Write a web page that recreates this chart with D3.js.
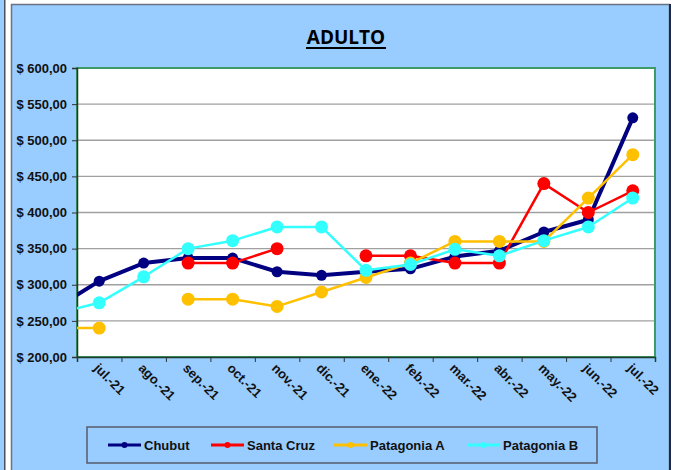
<!DOCTYPE html>
<html>
<head>
<meta charset="utf-8">
<script src="https://cdn.jsdelivr.net/npm/d3@7"></script>
<style>
  body { margin: 0; background: #fff; }
  svg { display: block; font-family: "Liberation Sans", Arial, sans-serif; }
</style>
</head>
<body>
<script>
// canvas size
var w = 676;
var h = 470;

// months shown on the axis (the first value of each series is jun.-21, just off the left edge)
var months = ["jul.-21", "ago.-21", "sep.-21", "oct.-21", "nov.-21", "dic.-21", "ene.-22",
              "feb.-22", "mar.-22", "abr.-22", "may.-22", "jun.-22", "jul.-22"];

// series values, jun.-21 .. jul.-22 (null = no data)
var chubut     = [267, 305, 330, 337, 337, 318, 313, 318, 322, 339, 347, 373, 390, 531];
var santaCruz  = [null, null, null, 330, 330, 350, null, 340, 340, 330, 330, 440, 400, 430];
var patagoniaA = [240, 240, null, 280, 280, 270, 290, 310, 330, 360, 360, 360, 420, 480];
var patagoniaB = [260, 275, 311, 350, 361, 380, 380, 320, 328, 349, 340, 361, 380, 420];

var yTicks = [200, 250, 300, 350, 400, 450, 500, 550, 600];

var series = [
  {name: "Chubut", values: chubut, color: "#000080", width: 4, r: 5.5},
  {name: "Santa Cruz", values: santaCruz, color: "#ff0000", width: 2.5, r: 6.5},
  {name: "Patagonia A", values: patagoniaA, color: "#ffc000", width: 2.5, r: 6.5},
  {name: "Patagonia B", values: patagoniaB, color: "#33ffff", width: 2.5, r: 6.5}
];

var plot = {left: 77, right: 655, top: 68, bottom: 357};

var svg = d3.select("body").append("svg")
    .attr("width", w)
    .attr("height", h);

// neighbouring chart strip and the frame
svg.append("rect").attr("x", 0).attr("y", 0).attr("width", 5).attr("height", h).attr("fill", "#99ccff");
svg.append("rect").attr("x", 4).attr("y", 0).attr("width", 1.5).attr("height", h).attr("fill", "#4a5060");
svg.append("rect").attr("x", 11.5).attr("y", 4.5).attr("width", 658).attr("height", h)
    .attr("fill", "#99ccff").attr("stroke", "#6b7283").attr("stroke-width", 1.5);
svg.append("rect").attr("x", 669).attr("y", 4).attr("width", 2).attr("height", h).attr("fill", "#1e2a44");

// title
svg.append("text")
    .attr("x", 346).attr("y", 44)
    .attr("text-anchor", "middle")
    .attr("font-family", "'Open Sans', 'Liberation Sans', sans-serif")
    .attr("font-size", 19).attr("font-weight", "bold")
    .attr("fill", "#000")
    .text("ADULTO");
svg.append("line")
    .attr("x1", 306).attr("x2", 386).attr("y1", 48).attr("y2", 48)
    .attr("stroke", "#000").attr("stroke-width", 2);

// scales: category i is centred at x(i + 0.5), jun.-21 sits at index -1
var x = d3.scaleLinear().domain([0, months.length]).range([plot.left, plot.right]);
var y = d3.scaleLinear().domain([200, 600]).range([plot.bottom, plot.top]);

svg.append("rect")
    .attr("x", plot.left).attr("y", plot.top)
    .attr("width", plot.right - plot.left).attr("height", plot.bottom - plot.top)
    .attr("fill", "#fff");

// grid lines
svg.append("g").selectAll("line")
    .data(yTicks.slice(1, -1))
    .enter().append("line")
    .attr("x1", plot.left).attr("x2", plot.right)
    .attr("y1", function(d) { return y(d); }).attr("y2", function(d) { return y(d); })
    .attr("stroke", "#a0a0a0").attr("stroke-width", 1.3);

svg.append("rect")
    .attr("x", plot.left).attr("y", plot.top)
    .attr("width", plot.right - plot.left).attr("height", plot.bottom - plot.top)
    .attr("fill", "none").attr("stroke", "#3f9a6a").attr("stroke-width", 2);

// y axis
var yAxis = svg.append("g")
    .attr("transform", "translate(" + plot.left + ",0)")
    .call(d3.axisLeft(y).tickValues(yTicks).tickSize(5).tickPadding(5)
        .tickFormat(function(d) { return "$ " + d3.format(".2f")(d).replace(".", ","); }));
yAxis.select(".domain").attr("stroke", "#1d3d2a").attr("stroke-width", 1.5);
yAxis.selectAll("line").attr("stroke", "#333");
yAxis.selectAll("text").attr("font-size", 13).attr("font-weight", "bold")
    .attr("fill", "#111").attr("font-family", "'Liberation Sans', Arial, sans-serif");

// x axis: ticks between months
var xAxis = svg.append("g")
    .attr("transform", "translate(0," + plot.bottom + ")")
    .call(d3.axisBottom(x).tickValues(d3.range(0, months.length + 1)).tickSize(5).tickFormat(""));
xAxis.select(".domain").attr("stroke", "#1d3d2a").attr("stroke-width", 1.5);
xAxis.selectAll("line").attr("stroke", "#333");

svg.append("g").selectAll("text")
    .data(months)
    .enter().append("text")
    .attr("transform", function(d, i) {
      return "translate(" + (x(i + 0.5) - 6) + "," + (plot.bottom + 12) + ") rotate(45)";
    })
    .attr("font-size", 13).attr("font-weight", "bold").attr("fill", "#111")
    .text(function(d) { return d; });

// series
svg.append("clipPath").attr("id", "clip")
    .append("rect")
    .attr("x", plot.left).attr("y", plot.top - 10)
    .attr("width", plot.right - plot.left + 10).attr("height", plot.bottom - plot.top + 10);

var line = d3.line()
    .defined(function(d) { return d != null; })
    .x(function(d, i) { return x(i - 0.5); })
    .y(function(d) { return y(d); });

var lines = svg.append("g").attr("clip-path", "url(#clip)");

series.forEach(function(s) {
  lines.append("path")
      .attr("d", line(s.values))
      .attr("fill", "none")
      .attr("stroke", s.color)
      .attr("stroke-width", s.width)
      .attr("stroke-linejoin", "round");
  lines.selectAll(null)
      .data(s.values.map(function(v, i) { return {v: v, i: i}; })
            .filter(function(d) { return d.v != null && d.i > 0; }))
      .enter().append("circle")
      .attr("cx", function(d) { return x(d.i - 0.5); })
      .attr("cy", function(d) { return y(d.v); })
      .attr("r", s.r)
      .attr("fill", s.color);
});

// legend
var legend = svg.append("g");
legend.append("rect")
    .attr("x", 87).attr("y", 427).attr("width", 510).attr("height", 36)
    .attr("fill", "#99ccff").attr("stroke", "#555b6b").attr("stroke-width", 1.5);

var legendX = [108, 211, 334, 467];
series.forEach(function(s, i) {
  var g = legend.append("g").attr("transform", "translate(" + legendX[i] + ",445)");
  g.append("line").attr("x1", 0).attr("x2", 33)
      .attr("stroke", s.color).attr("stroke-width", 3);
  g.append("circle").attr("cx", 16.5).attr("r", 3).attr("fill", s.color);
  g.append("text").attr("x", 36).attr("y", 5)
      .attr("font-size", 13).attr("font-weight", "bold").attr("fill", "#111")
      .text(s.name);
});
</script>
</body>
</html>
